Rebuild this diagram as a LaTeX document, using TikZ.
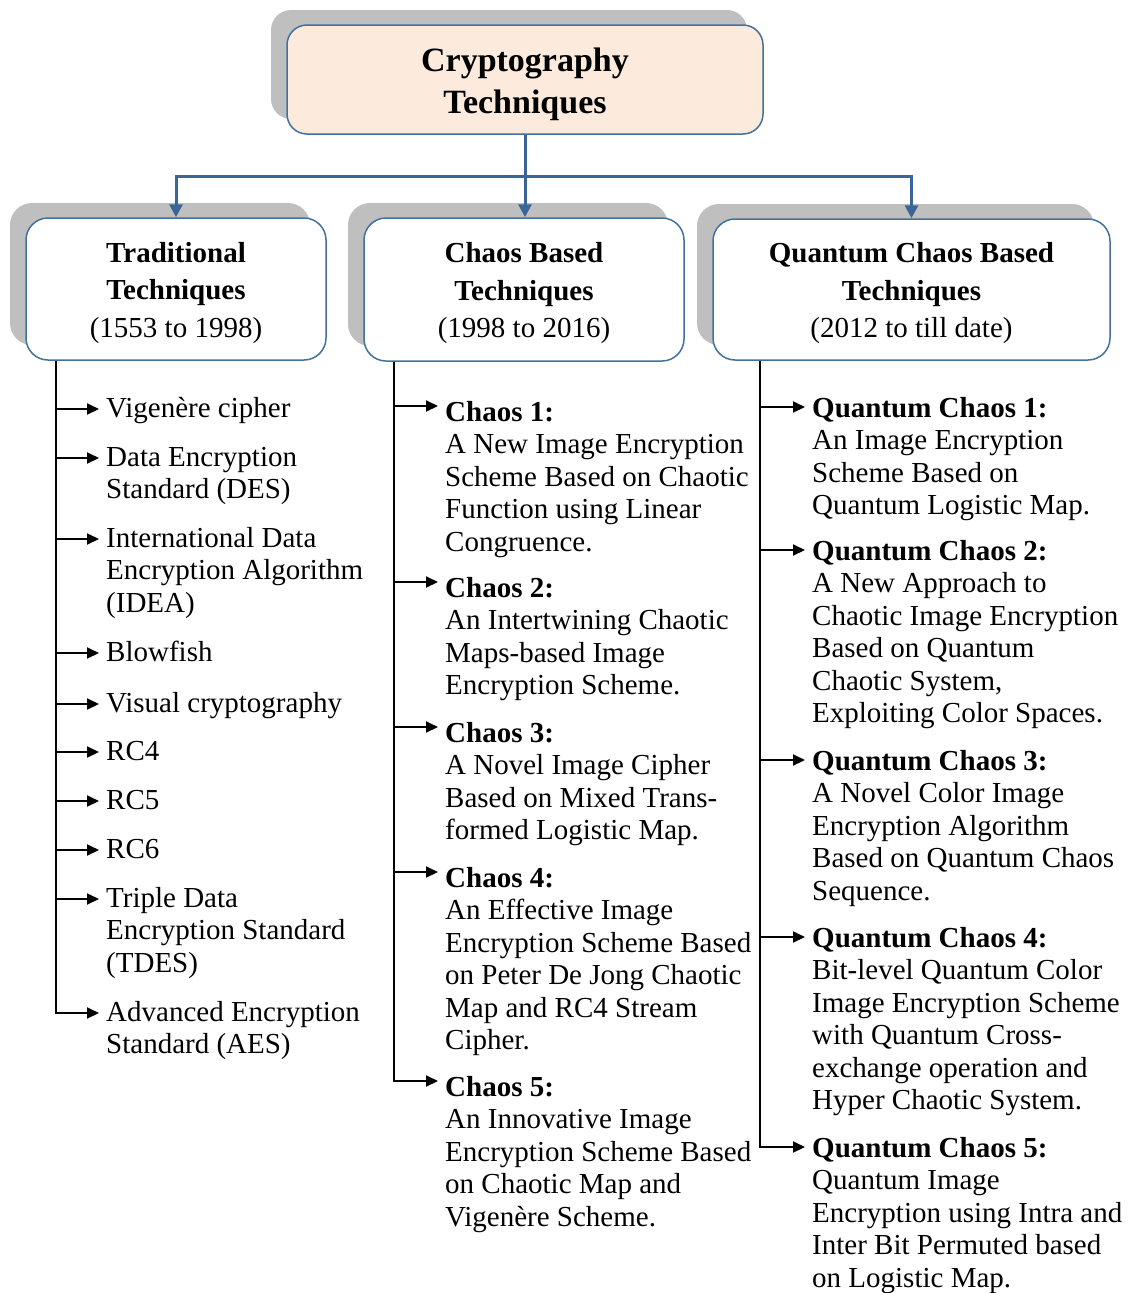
\documentclass[tikz,border=0pt]{standalone}
\usepackage{fontspec}
\setmainfont{Liberation Serif}
\usetikzlibrary{arrows.meta,calc,shadows}

\definecolor{boxblue}{HTML}{41719C}
\definecolor{linkblue}{HTML}{3A6599}
\definecolor{shadegray}{HTML}{BFBFBF}
\definecolor{peach}{HTML}{FCEBDD}

% height by which a column's arrows sit above the first baseline of their entry
\def\arrowrise{8}
% leaf entry hanging off a column trunk: trunk, name, x, first baseline y, text
% (the first line carries a 23pt strut, so the node top sits 23pt above its baseline)
\newcommand\leaf[5]{%
  \node[leaftext] (#2) at (#3,#4-23) {\rule{0pt}{23pt}#5};
  \coordinate (#2-in) at ($(#2.north west)+(-7,23-\arrowrise)$);
  \draw[leafarrow] (#1 |- #2-in) -- (#2-in);}
% last entry of a column: the trunk itself bends into its arrow
\newcommand\lastleaf[5]{%
  \node[leaftext] (#2) at (#3,#4-23) {\rule{0pt}{23pt}#5};
  \coordinate (#2-in) at ($(#2.north west)+(-7,23-\arrowrise)$);
  \draw[leafarrow] (#1) |- (#2-in);}

\begin{document}
\begin{tikzpicture}[x=1pt,y=-1pt,
  boxshadow/.style={copy shadow={draw=none,fill=shadegray,shadow xshift=-16pt,shadow yshift=15pt}},
  rootbox/.style={draw=boxblue,line width=1.5pt,rounded corners=20pt,fill=peach,
    align=center,inner sep=0pt,minimum width=476pt,minimum height=109pt,
    font=\fontsize{34}{42}\selectfont\bfseries,boxshadow},
  catbox/.style={draw=boxblue,line width=1.5pt,rounded corners=22pt,fill=white,
    align=center,inner sep=0pt,font=\fontsize{29}{37.5}\selectfont,boxshadow},
  link/.style={draw=linkblue,line width=3pt},
  linkarrow/.style={link,-{Triangle[length=13pt,width=13pt]}},
  leaftext/.style={anchor=north west,align=left,inner sep=0pt,
    font=\fontsize{29}{32.5}\selectfont},
  leafarrow/.style={draw=black,line width=2pt,-{Triangle[length=12pt,width=11pt]}}]

\useasboundingbox (0,0) rectangle (1128,1293);

% root and the three families
\node[rootbox] (root) at (525,79.5) {\rule{0pt}{34pt}Cryptography\\Techniques};
\node[catbox,minimum width=300pt,minimum height=142pt] (b1) at (176,289)
  {\rule{0pt}{28pt}\textbf{Traditional}\\\textbf{Techniques}\\(1553 to 1998)};
\node[catbox,minimum width=320pt,minimum height=143pt] (b2) at (524,289.5)
  {\rule{0pt}{28pt}\textbf{Chaos Based}\\\textbf{Techniques}\\(1998 to 2016)};
\node[catbox,minimum width=397pt,minimum height=141pt] (b3) at (911.5,289.5)
  {\rule{0pt}{28pt}\textbf{Quantum Chaos Based}\\\textbf{Techniques}\\(2012 to till date)};

% blue tree connectors
\coordinate (hub) at ($(root.south)+(0,42)$);
\draw[link] (root.south) -- (hub);
\draw[linkarrow] (hub) -| (b1.north);
\draw[linkarrow] (hub) -- (hub |- b2.north);
\draw[linkarrow] (hub) -| (b3.north);

% column trunks
\coordinate (t1) at ($(b1.south west)+(31,0)$);
\coordinate (t2) at ($(b2.south west)+(31,0)$);
\coordinate (t3) at ($(b3.south west)+(48,0)$);

% traditional techniques
\def\arrowrise{8}
\leaf{t1}{v1}{106}{417}{Vigenère cipher}
\leaf{t1}{v2}{106}{466}{Data Encryption\\Standard (DES)}
\leaf{t1}{v3}{106}{547}{International Data\\Encryption Algorithm\\(IDEA)}
\leaf{t1}{v4}{106}{661}{Blowfish}
\leaf{t1}{v5}{106}{712}{Visual cryptography}
\leaf{t1}{v6}{106}{760}{RC4}
\leaf{t1}{v7}{106}{809}{RC5}
\leaf{t1}{v8}{106}{858}{RC6}
\leaf{t1}{v9}{106}{907}{Triple Data\\Encryption Standard\\(TDES)}
\lastleaf{t1}{v10}{106}{1021}{Advanced Encryption\\Standard (AES)}

% chaos based techniques
\def\arrowrise{15}
\leaf{t2}{c1}{445}{421}{\textbf{Chaos 1:}\\A New Image Encryption\\Scheme Based on Chaotic\\Function using Linear\\Congruence.}
\leaf{t2}{c2}{445}{597}{\textbf{Chaos 2:}\\An Intertwining Chaotic\\Maps-based Image\\Encryption Scheme.}
\leaf{t2}{c3}{445}{742}{\textbf{Chaos 3:}\\A Novel Image Cipher\\Based on Mixed Trans-\\formed Logistic Map.}
\leaf{t2}{c4}{445}{887}{\textbf{Chaos 4:}\\An Effective Image\\Encryption Scheme Based\\on Peter De Jong Chaotic\\Map and RC4 Stream\\Cipher.}
\lastleaf{t2}{c5}{445}{1096}{\textbf{Chaos 5:}\\An Innovative Image\\Encryption Scheme Based\\on Chaotic Map and\\Vigenère Scheme.}

% quantum chaos based techniques
\def\arrowrise{10}
\leaf{t3}{q1}{812}{417}{\textbf{Quantum Chaos 1:}\\An Image Encryption\\Scheme Based on\\Quantum Logistic Map.}
\leaf{t3}{q2}{812}{560}{\textbf{Quantum Chaos 2:}\\A New Approach to\\Chaotic Image Encryption\\Based on Quantum\\Chaotic System,\\Exploiting Color Spaces.}
\leaf{t3}{q3}{812}{770}{\textbf{Quantum Chaos 3:}\\A Novel Color Image\\Encryption Algorithm\\Based on Quantum Chaos\\Sequence.}
\leaf{t3}{q4}{812}{947}{\textbf{Quantum Chaos 4:}\\Bit-level Quantum Color\\Image Encryption Scheme\\with Quantum Cross-\\exchange operation and\\Hyper Chaotic System.}
\lastleaf{t3}{q5}{812}{1157}{\textbf{Quantum Chaos 5:}\\Quantum Image\\Encryption using Intra and\\Inter Bit Permuted based\\on Logistic Map.}
\end{tikzpicture}
\end{document}
